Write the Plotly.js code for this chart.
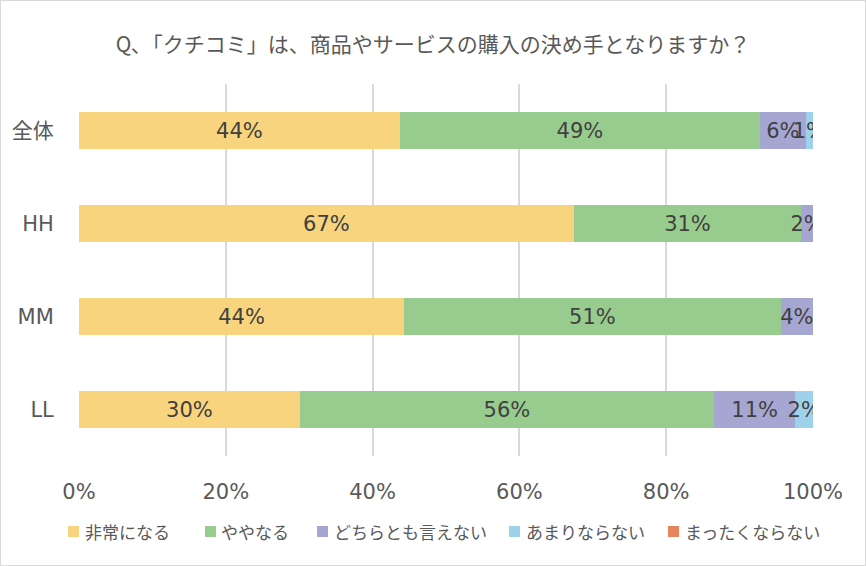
<!DOCTYPE html>
<html>
<head>
<meta charset="utf-8">
<script src="https://cdn.plot.ly/plotly-3.0.1.min.js"></script>
<style>
html,body{margin:0;padding:0;background:#fff;}
#chart{width:864px;height:564px;border:1px solid #d9d9d9;}
</style>
</head>
<body>
<div id="chart"></div>
<script>
const categories = ["全体", "HH", "MM", "LL"];
const seriesNames = ["非常になる", "ややなる", "どちらとも言えない", "あまりならない", "まったくならない"];
const hijouni = [43.7, 67.4, 44.3, 30.1];
const yaya = [49.1, 31.0, 51.3, 56.4];
const dochiratomo = [6.2, 1.6, 4.4, 11.1];
const amari = [1.0, 0, 0, 2.4];
const mattaku = [0, 0, 0, 0];
const xTickVals = [0, 20, 40, 60, 80, 100];
const colors = ["#F9D47E", "#98CC8F", "#A6A6D2", "#9DD2EA", "#E8845B"];

const seriesValues = [hijouni, yaya, dochiratomo, amari, mattaku];
const numFont = "'DejaVu Sans', 'Noto Sans CJK JP', sans-serif";
const jpFont = "'Noto Sans CJK JP', 'Noto Sans', sans-serif";

const traces = seriesValues.map((vals, i) => ({
  type: "bar",
  orientation: "h",
  name: seriesNames[i],
  y: categories,
  x: vals,
  marker: {color: colors[i], line: {width: 0}},
  text: vals.map(v => v > 0 ? Math.round(v) + "%" : ""),
  textposition: "inside",
  insidetextanchor: "middle",
  constraintext: "none",
  textangle: 0,
  textfont: {family: numFont, size: 21, color: "#404040"},
  hoverinfo: "none",
  showlegend: false
}));

// manual legend (layout positions in pixels, converted to paper coords)
const W = 864, H = 564;
const mL = 78, mR = 52, mT = 83, mB = 109;
const pw = W - mL - mR, ph = H - mT - mB;
const px = x => (x - mL) / pw;
const py = y => (H - mB - y) / ph;
const legendSquareX = [67, 204, 316, 508, 667];
const legendTextX = [82, 218, 331, 523, 682];
const legendY = 530;

const shapes = [];
const annotations = [];
seriesNames.forEach((name, i) => {
  shapes.push({
    type: "rect", xref: "paper", yref: "paper",
    x0: px(legendSquareX[i]), x1: px(legendSquareX[i] + 11),
    y0: py(legendY + 6), y1: py(legendY - 5),
    fillcolor: colors[i], line: {width: 0}
  });
  annotations.push({
    xref: "paper", yref: "paper",
    x: px(legendTextX[i]), y: py(legendY),
    xanchor: "left", yanchor: "middle",
    text: name, showarrow: false,
    font: {family: jpFont, size: 17, color: "#595959"}
  });
});

const layout = {
  width: W,
  height: H,
  barmode: "stack",
  bargap: 0.6,
  margin: {l: mL, r: mR, t: mT, b: mB},
  paper_bgcolor: "#ffffff",
  plot_bgcolor: "#ffffff",
  font: {family: jpFont, color: "#595959"},
  title: {
    text: "Q､「クチコミ」は、商品やサービスの購入の決め手となりますか？",
    xref: "container", x: 0.5, xanchor: "center",
    yref: "container", y: 0.922, yanchor: "middle",
    font: {family: jpFont, size: 21, color: "#595959"}
  },
  xaxis: {
    range: [0, 100],
    tickmode: "array",
    tickvals: xTickVals,
    ticktext: xTickVals.map(v => v + "%"),
    showgrid: true,
    gridcolor: "#d9d9d9",
    gridwidth: 2,
    zeroline: false,
    showline: false,
    ticks: "outside",
    ticklen: 17,
    tickcolor: "rgba(0,0,0,0)",
    tickfont: {family: numFont, size: 21, color: "#595959"},
    fixedrange: true
  },
  yaxis: {
    categoryorder: "array",
    categoryarray: categories,
    autorange: "reversed",
    showgrid: false,
    zeroline: false,
    showline: false,
    ticks: "outside",
    ticklen: 20,
    tickcolor: "rgba(0,0,0,0)",
    tickfont: {family: numFont, size: 21, color: "#595959"},
    fixedrange: true
  },
  shapes: shapes,
  annotations: annotations,
  showlegend: false
};

Plotly.newPlot("chart", traces, layout, {staticPlot: true, displayModeBar: false});
</script>
</body>
</html>
